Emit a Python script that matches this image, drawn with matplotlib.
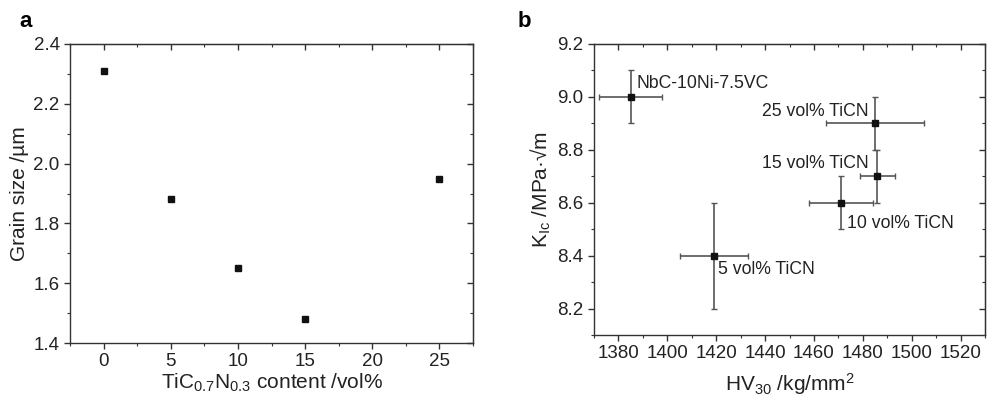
import matplotlib
matplotlib.use("Agg")
import matplotlib.pyplot as plt
from matplotlib.ticker import MultipleLocator

plt.rcParams['font.family'] = ['Liberation Sans', 'DejaVu Sans']
plt.rcParams['mathtext.fontset'] = 'custom'
plt.rcParams['mathtext.rm'] = 'Liberation Sans'
plt.rcParams['mathtext.it'] = 'Liberation Sans:italic'

# Panel a data
ticn_content = [0, 5, 10, 15, 25]
grain_size = [2.31, 1.88, 1.65, 1.48, 1.95]

# Panel b data
sample_labels = ["NbC-10Ni-7.5VC", "25 vol% TiCN", "15 vol% TiCN", "10 vol% TiCN", "5 vol% TiCN"]
hv30 = [1385, 1485, 1486, 1471, 1419]
hv30_err = [13, 20, 7, 13, 14]
kic = [9.0, 8.9, 8.7, 8.6, 8.4]
kic_err = [0.1, 0.1, 0.1, 0.1, 0.2]

TICK_FS = 13.5
LABEL_FS = 15
ANN_FS = 12.7

fig = plt.figure(figsize=(9.88, 3.96), dpi=100)
axa = fig.add_axes([0.0709, 0.1338, 0.4079, 0.7551])
axb = fig.add_axes([0.6012, 0.1540, 0.3958, 0.7349])

def style(ax, xmaj, xmin, ymaj, ymin):
    ax.xaxis.set_major_locator(MultipleLocator(xmaj))
    ax.xaxis.set_minor_locator(MultipleLocator(xmin))
    ax.yaxis.set_major_locator(MultipleLocator(ymaj))
    ax.yaxis.set_minor_locator(MultipleLocator(ymin))
    ax.tick_params(which='both', direction='out', labelsize=TICK_FS, colors='#333333', labelcolor='#222222')
    ax.tick_params(which='major', length=4, width=1)
    ax.tick_params(which='minor', length=2.5, width=0.8)
    for s in ax.spines.values():
        s.set_color('#333333')
        s.set_linewidth(1)
    # mirrored inward ticks on top/right
    tx = ax.secondary_xaxis('top')
    tx.xaxis.set_major_locator(MultipleLocator(xmaj))
    tx.xaxis.set_minor_locator(MultipleLocator(xmin))
    tx.tick_params(which='both', direction='in', labeltop=False, colors='#333333')
    tx.tick_params(which='major', length=4, width=1)
    tx.tick_params(which='minor', length=2.5, width=0.8)
    ty = ax.secondary_yaxis('right')
    ty.yaxis.set_major_locator(MultipleLocator(ymaj))
    ty.yaxis.set_minor_locator(MultipleLocator(ymin))
    ty.tick_params(which='both', direction='in', labelright=False, colors='#333333')
    ty.tick_params(which='major', length=4, width=1)
    ty.tick_params(which='minor', length=2.5, width=0.8)

# Panel a
axa.plot(ticn_content, grain_size, 's', color='#111111', markersize=5, linestyle='none')
axa.set_xlim(-2.5, 27.5)
axa.set_ylim(1.4, 2.4)
style(axa, 5, 2.5, 0.2, 0.1)
axa.set_xlabel(r"TiC$_{0.7}$N$_{0.3}$ content /vol%", fontsize=LABEL_FS, color='#222222', labelpad=1)
axa.set_ylabel("Grain size /µm", fontsize=LABEL_FS, color='#222222', labelpad=3)

# Panel b
axb.errorbar(hv30, kic, xerr=hv30_err, yerr=kic_err, fmt='s', color='#111111',
             ecolor='#555555', elinewidth=1.2, capsize=2.5, capthick=1, markersize=5)
axb.set_xlim(1370, 1530)
axb.set_ylim(8.1, 9.2)
style(axb, 20, 10, 0.2, 0.1)
axb.set_xlabel(r"HV$_{30}$ /kg/mm$^{2}$", fontsize=LABEL_FS, color='#222222', labelpad=6)
axb.set_ylabel(r"K$_{\mathrm{Ic}}$ /MPa·√m", fontsize=LABEL_FS, color='#222222', labelpad=3)

label_pos = [(1387.4, 9.052, 'left'), (1482.4, 8.944, 'right'), (1482.4, 8.749, 'right'),
             (1473.6, 8.522, 'left'), (1420.8, 8.348, 'left')]
for lab, (x, y, ha) in zip(sample_labels, label_pos):
    axb.text(x, y, lab, ha=ha, va='center', fontsize=ANN_FS, color='#222222')

fig.text(0.020, 0.945, 'a', fontsize=16, fontweight='bold', va='center', ha='left')
fig.text(0.524, 0.945, 'b', fontsize=16, fontweight='bold', va='center', ha='left')

fig.savefig('out.png', dpi=100)
